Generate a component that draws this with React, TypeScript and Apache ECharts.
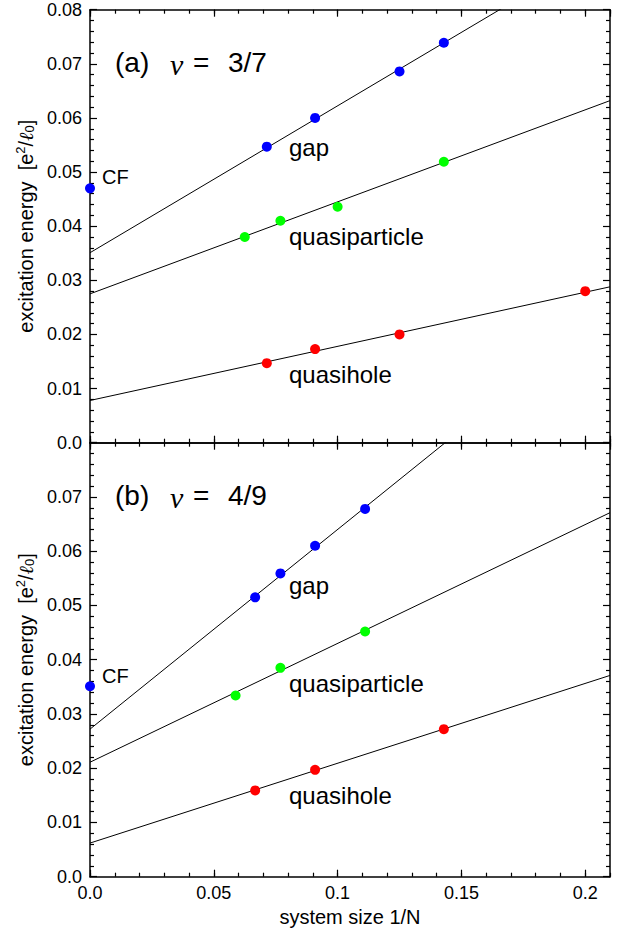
import React, { useEffect, useRef } from 'react';
import * as echarts from 'echarts';

// ---- axes ----
const X_MAX = 0.21;
const Y_MAX = 0.08;
const X_MAJOR = 0.05;
const X_MINOR = 0.01;
const Y_MAJOR = 0.01;

// ---- panel (a): nu = 3/7 ----
const cfA_x = [0];
const cfA_y = [0.047];
const gapA_x = [0.0714, 0.0909, 0.125, 0.1429];
const gapA_y = [0.0547, 0.06, 0.0686, 0.0739];
const qpA_x = [0.0625, 0.0769, 0.1, 0.1429];
const qpA_y = [0.038, 0.041, 0.0436, 0.0519];
const qhA_x = [0.0714, 0.0909, 0.125, 0.2];
const qhA_y = [0.0147, 0.0173, 0.02, 0.028];

// ---- panel (b): nu = 4/9 ----
const cfB_x = [0];
const cfB_y = [0.0351];
const gapB_x = [0.0667, 0.0769, 0.0909, 0.1111];
const gapB_y = [0.0515, 0.0559, 0.061, 0.0678];
const qpB_x = [0.0588, 0.0769, 0.1111];
const qpB_y = [0.0334, 0.0385, 0.0452];
const qhB_x = [0.0667, 0.0909, 0.1429];
const qhB_y = [0.0159, 0.0197, 0.0272];

// ---- straight-line fits (values at x = 0 and x = 0.21) ----
const fit_x = [0, 0.21];
const gapA_fit = [0.0351, 0.0921];
const qpA_fit = [0.0275, 0.0632];
const qhA_fit = [0.0078, 0.0288];
const gapB_fit = [0.0272, 0.1045];
const qpB_fit = [0.0211, 0.0671];
const qhB_fit = [0.0062, 0.0371];

const FONT = '"Liberation Sans", Arial, Helvetica, sans-serif';
const SERIF = '"Liberation Serif", "Times New Roman", serif';
const BLUE = '#0000ff';
const GREEN = '#00ff00';
const RED = '#ff0000';

const pts = (xs: number[], ys: number[]) => xs.map((x, i) => [x, ys[i]]);

const xFmt = (v: number) => {
  if (Math.abs(v) < 1e-9) return '0.0';
  const r = Math.round(v * 100) / 100;
  if (Math.abs(r / X_MAJOR - Math.round(r / X_MAJOR)) > 1e-6) return '';
  return String(r);
};
const yFmt = (v: number) => (Math.abs(v) < 1e-9 ? '0.0' : v.toFixed(2));

const lineStyle = { color: '#000', width: 1.5 };

function xAxis(grid: number, position: 'top' | 'bottom', major: boolean, labels: boolean) {
  const ax: any = {
    type: 'value',
    gridIndex: grid,
    position,
    min: 0,
    max: X_MAX,
    interval: major ? X_MAJOR : X_MINOR,
    axisLine: { show: major, onZero: false, lineStyle },
    axisTick: { show: true, inside: true, length: major ? 7 : 4, lineStyle: { color: '#000', width: 1.2 } },
    axisLabel: {
      show: labels,
      formatter: xFmt,
      margin: 7,
      fontSize: 18,
      fontFamily: FONT,
      color: '#000',
      showMaxLabel: false,
    },
    splitLine: { show: false },
  };
  if (labels) {
    ax.name = 'system size 1/N';
    ax.nameLocation = 'middle';
    ax.nameGap = 30;
    ax.nameTextStyle = { fontSize: 20, fontFamily: FONT, color: '#000' };
  }
  return ax;
}

function yAxis(grid: number, position: 'left' | 'right', labels: boolean, hideMax: boolean) {
  const ax: any = {
    type: 'value',
    gridIndex: grid,
    position,
    min: 0,
    max: Y_MAX,
    interval: Y_MAJOR,
    axisLine: { show: true, onZero: false, lineStyle },
    axisTick: { show: true, inside: true, length: 7, lineStyle: { color: '#000', width: 1.2 } },
    minorTick: { show: true, splitNumber: 5, length: 4, lineStyle: { color: '#000', width: 1.2 } },
    axisLabel: {
      show: labels,
      formatter: yFmt,
      margin: 8,
      fontSize: 18,
      fontFamily: FONT,
      color: '#000',
      showMaxLabel: !hideMax,
    },
    splitLine: { show: false },
    minorSplitLine: { show: false },
  };
  if (labels) {
    ax.name = 'excitation energy  [e{sup|2}/{ell|ℓ}{sub|0}]';
    ax.nameLocation = 'middle';
    ax.nameRotate = 90;
    ax.nameGap = 50;
    ax.nameTextStyle = {
      fontSize: 20,
      fontFamily: FONT,
      color: '#000',
      rich: {
        sup: { fontSize: 13, fontFamily: FONT, color: '#000', padding: [0, 0, 10, 0] },
        sub: { fontSize: 13, fontFamily: FONT, color: '#000', padding: [8, 0, 0, 0] },
        ell: { fontSize: 20, fontFamily: SERIF, fontStyle: 'italic', color: '#000' },
      },
    };
  }
  return ax;
}

function fitSeries(xi: number, yi: number, ys: number[]) {
  return {
    type: 'line',
    xAxisIndex: xi,
    yAxisIndex: yi,
    data: pts(fit_x, ys),
    symbol: 'none',
    lineStyle: { color: '#000', width: 1 },
    silent: true,
    z: 2,
    clip: true,
  };
}

function dotSeries(xi: number, yi: number, xs: number[], ys: number[], color: string) {
  return {
    type: 'scatter',
    xAxisIndex: xi,
    yAxisIndex: yi,
    data: pts(xs, ys),
    symbol: 'circle',
    symbolSize: 10,
    itemStyle: { color, opacity: 1 },
    z: 3,
    clip: false,
  };
}

function txt(text: string, x: number, y: number, fontSize: number, extra: any = {}) {
  return {
    type: 'text',
    x,
    y,
    z: 10,
    style: { text, fontSize, fontFamily: FONT, fill: '#000', verticalAlign: 'middle', ...extra },
  };
}

export default function App() {
  const ref = useRef<HTMLDivElement>(null);

  useEffect(() => {
    if (!ref.current) return;
    const chart = echarts.init(ref.current, undefined, { renderer: 'svg' });

    const offB = 433; // vertical offset of panel (b) annotations relative to panel (a)

    chart.setOption({
      animation: false,
      backgroundColor: '#fff',
      grid: [
        { left: 90, top: 9.7, right: 24, height: 433, containLabel: false },
        { left: 90, top: 442.7, right: 24, height: 434, containLabel: false },
      ],
      xAxis: [
        xAxis(0, 'bottom', true, false), // 0
        xAxis(0, 'bottom', false, false), // 1
        xAxis(0, 'top', true, false), // 2
        xAxis(0, 'top', false, false), // 3
        xAxis(1, 'bottom', true, true), // 4
        xAxis(1, 'bottom', false, false), // 5
        xAxis(1, 'top', true, false), // 6
        xAxis(1, 'top', false, false), // 7
      ],
      yAxis: [
        yAxis(0, 'left', true, false), // 0
        yAxis(0, 'right', false, false), // 1
        yAxis(1, 'left', true, true), // 2
        yAxis(1, 'right', false, false), // 3
      ],
      series: [
        fitSeries(0, 0, gapA_fit),
        fitSeries(0, 0, qpA_fit),
        fitSeries(0, 0, qhA_fit),
        dotSeries(0, 0, cfA_x, cfA_y, BLUE),
        dotSeries(0, 0, gapA_x, gapA_y, BLUE),
        dotSeries(0, 0, qpA_x, qpA_y, GREEN),
        dotSeries(0, 0, qhA_x, qhA_y, RED),
        fitSeries(4, 2, gapB_fit),
        fitSeries(4, 2, qpB_fit),
        fitSeries(4, 2, qhB_fit),
        dotSeries(4, 2, cfB_x, cfB_y, BLUE),
        dotSeries(4, 2, gapB_x, gapB_y, BLUE),
        dotSeries(4, 2, qpB_x, qpB_y, GREEN),
        dotSeries(4, 2, qhB_x, qhB_y, RED),
      ],
      graphic: [
        txt('(a)', 115, 62, 28),
        txt('ν', 170, 64, 30, { fontFamily: SERIF, fontStyle: 'italic' }),
        txt('=', 193, 62, 28),
        txt('3/7', 228, 62, 28),
        txt('CF', 102, 177, 20),
        txt('gap', 289, 147, 24),
        txt('quasiparticle', 289, 236, 24),
        txt('quasihole', 289, 374, 24),
        txt('(b)', 115, 62 + offB, 28),
        txt('ν', 170, 64 + offB, 30, { fontFamily: SERIF, fontStyle: 'italic' }),
        txt('=', 193, 62 + offB, 28),
        txt('4/9', 228, 62 + offB, 28),
        txt('CF', 102, 676, 20),
        txt('gap', 289, 585, 24),
        txt('quasiparticle', 289, 683, 24),
        txt('quasihole', 289, 795, 24),
      ],
    });

    return () => chart.dispose();
  }, []);

  return (
    <div
      ref={ref}
      style={{ position: 'absolute', left: 0, top: 0, width: 634, height: 929, background: '#fff' }}
    />
  );
}
